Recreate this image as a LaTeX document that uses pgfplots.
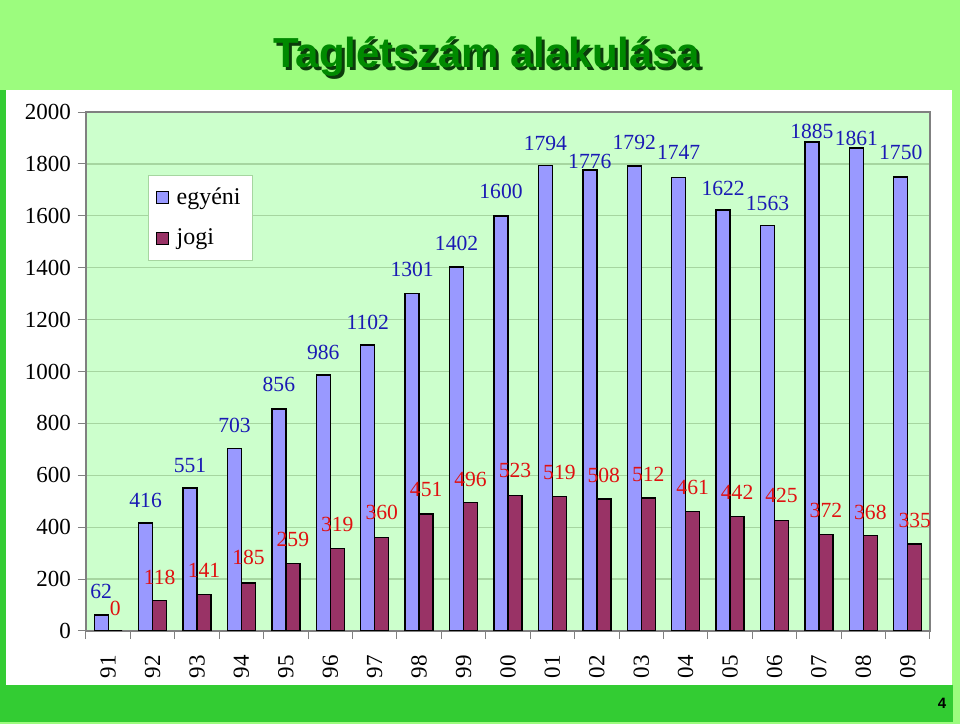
\documentclass[border=0pt]{standalone}
\usepackage{fontspec}
\setmainfont{Liberation Serif}
\newfontfamily\titlefont{Liberation Sans}
\usepackage{pgfplots}
\pgfplotsset{compat=1.18}
\usepackage{pgfplotstable}
\definecolor{slidegreen}{HTML}{9CFC7E}
\definecolor{stripgreen}{HTML}{33CC33}
\definecolor{plotbg}{HTML}{CCFFCC}
\definecolor{gridc}{HTML}{A6D6A0}
\definecolor{egy}{HTML}{9999FF}
\definecolor{jog}{HTML}{993366}
\definecolor{lblblue}{HTML}{1A1AB4}
\definecolor{lblred}{HTML}{E01010}
\definecolor{titlegreen}{HTML}{008A00}
\definecolor{shadowc}{HTML}{0B3B0B}
\definecolor{axgray}{HTML}{808080}

\pgfplotstableread{
x e dye j dyj
0 62 11.5 0 11.5
1 416 11.5 118 11.5
2 551 11.5 141 12
3 703 11.5 185 13
4 856 12 259 12
5 986 11.5 319 12
6 1102 11.5 360 12.5
7 1301 12 451 12
8 1402 12 496 11.5
9 1600 12 523 12.5
10 1794 11 519 12
11 1776 4.5 508 12
12 1792 12 512 12
13 1747 12.5 461 12
14 1622 11 442 12
15 1563 11 425 12.5
16 1885 5 372 12
17 1861 5 368 11.5
18 1750 12 335 12
}\data

\pgfplotsset{
  sqlegend/.style={legend image code/.code={\draw[##1, draw=black, line width=0.5pt] (0pt,-3pt) rectangle (6pt,3pt); \path (7.5pt,0pt);}}
}

\begin{document}
\begin{tikzpicture}[x=1pt,y=1pt]
\fill[slidegreen] (0,0) rectangle (480,362);
\fill[white] (3,19.5) rectangle (476,317);
\fill[stripgreen] (0,0.8) rectangle (476.5,19.5);
\fill[stripgreen] (0,19.5) rectangle (3,317);
\node[anchor=base, font=\titlefont\bfseries\fontsize{21}{25}\selectfont, text=shadowc] at (244.7,326.9) {Taglétszám alakulása};
\node[anchor=base, font=\titlefont\bfseries\fontsize{21}{25}\selectfont, text=titlegreen] at (243.2,328.4) {Taglétszám alakulása};
\node[font=\titlefont\bfseries\fontsize{7.5}{9}\selectfont] at (471,10.3) {4};
\begin{axis}[
  at={(43pt,46.5pt)}, anchor=south west, scale only axis,
  width=422pt, height=259.5pt,
  xmin=-0.5, xmax=18.5, ymin=0, ymax=2000,
  ybar=0pt, bar width=0.315,
  axis background/.style={fill=plotbg},
  axis line style={draw=axgray, line width=0.6pt},
  ytick={0,200,...,2000}, ymajorgrids, grid style={draw=gridc, line width=0.6pt},
  xtick={-0.5,0.5,...,18.5}, xticklabels={},
  extra x ticks={0,1,...,18},
  extra x tick labels={91,92,93,94,95,96,97,98,99,00,01,02,03,04,05,06,07,08,09},
  extra x tick style={major tick length=0pt, grid=none, tick label style={rotate=90, anchor=east}},
  xticklabel shift=8.5pt,
  xtick pos=bottom, ytick pos=left,
  tick align=outside, major tick length=4pt,
  tick style={draw=axgray, line width=0.5pt},
  /pgf/number format/assume math mode=true, /pgf/number format/1000 sep={},
  tick label style={font=\fontsize{11.5}{13}\selectfont, text=black},
  legend style={at={(rel axis cs:0.0735,0.8786)}, anchor=north west, fill=white, draw=gridc,
    font=\fontsize{12}{14}\selectfont, row sep=7pt, inner sep=4pt},
  legend cell align=left,
]
\addplot[fill=egy, draw=black, line width=0.7pt, sqlegend, nodes near coords,
  visualization depends on={\thisrow{dye} \as \dy},
  every node near coord/.append style={anchor=center, yshift=\dy pt, text=lblblue, font=\fontsize{10.8}{12}\selectfont}]
  table[x=x,y=e]{\data};
\addlegendentry{egyéni}
\addplot[fill=jog, draw=black, line width=0.7pt, sqlegend, nodes near coords,
  visualization depends on={\thisrow{dyj} \as \dy},
  every node near coord/.append style={anchor=center, yshift=\dy pt, text=lblred, font=\fontsize{10.8}{12}\selectfont}]
  table[x=x,y=j]{\data};
\addlegendentry{jogi}
\end{axis}
\pgfresetboundingbox
\useasboundingbox (0,0) rectangle (480,362);
\end{tikzpicture}
\end{document}
